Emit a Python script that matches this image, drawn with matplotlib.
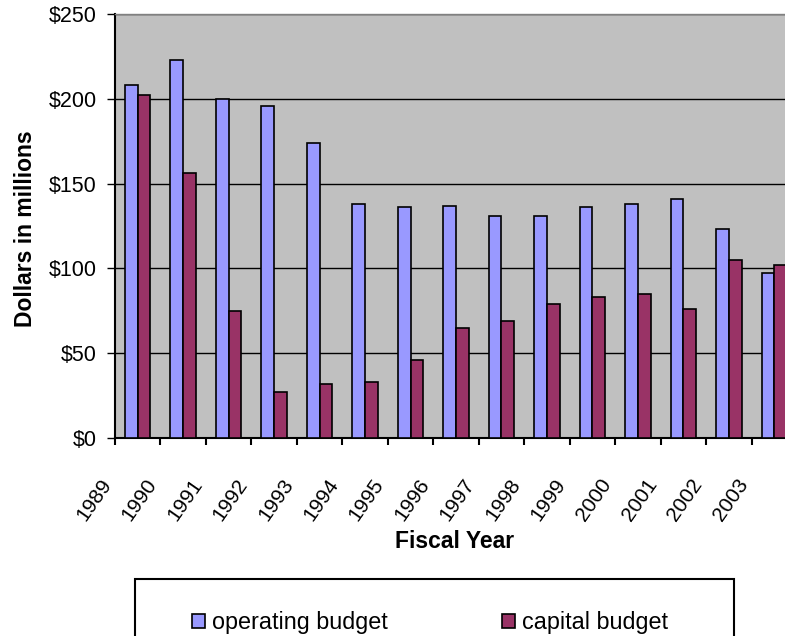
import matplotlib
matplotlib.use("Agg")
import matplotlib.pyplot as plt
import matplotlib.transforms as mtransforms
from matplotlib.patches import Patch, Rectangle
from matplotlib.ticker import FuncFormatter
import numpy as np

plt.rcParams['font.family'] = ['Liberation Sans', 'DejaVu Sans']

years = ['1989', '1990', '1991', '1992', '1993', '1994', '1995', '1996',
         '1997', '1998', '1999', '2000', '2001', '2002', '2003']
operating_budget = [208, 223, 200, 196, 174, 138, 136, 137, 131, 131, 136, 138, 141, 123, 97]
capital_budget = [202, 156, 75, 27, 32, 33, 46, 65, 69, 79, 83, 85, 76, 105, 102]

W, H = 785, 636
fig = plt.figure(figsize=(W / 100, H / 100), dpi=100)

# plot area runs past the right edge of the figure
left_px, right_px, top_px, bottom_px = 115, 797, 14, 438
ax = fig.add_axes([left_px / W, 1 - bottom_px / H,
                   (right_px - left_px) / W, (bottom_px - top_px) / H])
ax.set_facecolor('#C0C0C0')

x = np.arange(len(years)) + 0.5
bw = 0.28
ax.bar(x - bw / 2, operating_budget, bw, color='#9999FF', edgecolor='black',
       linewidth=1.2, zorder=3)
ax.bar(x + bw / 2, capital_budget, bw, color='#993366', edgecolor='black',
       linewidth=1.2, zorder=3)

ax.set_xlim(0, len(years))
ax.set_ylim(0, 250)
ax.set_yticks([0, 50, 100, 150, 200, 250])
ax.yaxis.set_major_formatter(FuncFormatter(lambda v, p: f'${v:.0f}'))
ax.yaxis.grid(True, color='black', linewidth=1.0)
ax.set_axisbelow(True)

# category boundaries carry the ticks and the rotated year labels
ax.set_xticks(np.arange(len(years)))
ax.set_xticklabels(years, rotation=55, ha='right', va='top', fontsize=15)
offset = mtransforms.ScaledTranslation(8 / 100, 0, fig.dpi_scale_trans)
for lab in ax.get_xticklabels():
    lab.set_transform(lab.get_transform() + offset)

ax.tick_params(axis='x', direction='out', length=5, width=1.5, pad=22, colors='black')
ax.tick_params(axis='y', direction='out', length=6, width=1.0, pad=7,
               labelsize=15.5, colors='black')

for side in ('left', 'bottom'):
    ax.spines[side].set_color('black')
    ax.spines[side].set_linewidth(1.5)
ax.spines['top'].set_color('#808080')
ax.spines['top'].set_linewidth(1.0)
ax.spines['right'].set_visible(False)

fig.text(26 / W, 1 - 229 / H, 'Dollars in millions', rotation=90, ha='center',
         va='center', fontsize=16.5, fontweight='bold')
fig.text(455 / W, 1 - 542 / H, 'Fiscal Year', ha='center', va='center',
         fontsize=16.5, fontweight='bold')

# legend frame continues below the bottom edge of the figure
fig.patches.append(Rectangle((135 / W, 1 - 680 / H), (734 - 135) / W, (680 - 579) / H,
                             transform=fig.transFigure, facecolor='white',
                             edgecolor='black', linewidth=1.5, clip_on=False))
handles = [Patch(facecolor='#9999FF', edgecolor='black', linewidth=1.2),
           Patch(facecolor='#993366', edgecolor='black', linewidth=1.2)]
fig.legend(handles, ['operating budget', 'capital budget'], ncol=2, frameon=False,
           loc='center left', bbox_to_anchor=(192 / W, 1 - 623 / H),
           fontsize=16.8, handlelength=0.56, handleheight=0.56,
           handletextpad=0.3, columnspacing=4.9, borderpad=0, borderaxespad=0)

fig.savefig('out.png', dpi=100)
